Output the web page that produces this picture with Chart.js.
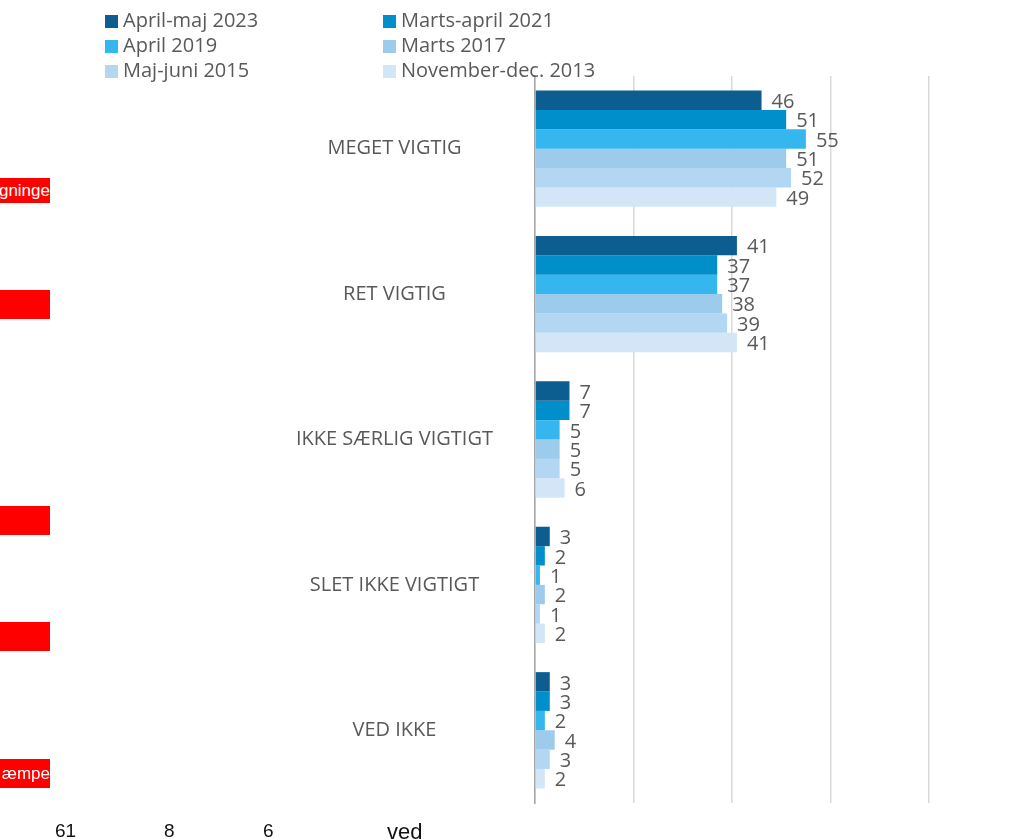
<!DOCTYPE html>
<html>
<head>
<meta charset="utf-8">
<script src="https://cdn.jsdelivr.net/npm/chart.js@4"></script>
<style>
  html, body { margin: 0; padding: 0; background: #fff; }
  #wrap { position: relative; width: 1027px; height: 839px; overflow: hidden; }
  #chart { position: absolute; left: 0; top: 0; }
  #legend { position: absolute; left: 105px; top: 7px; width: 600px; font-family: "Open Sans", sans-serif; font-size: 20px; color: #595959; }
  .li { position: absolute; white-space: nowrap; line-height: 25px; height: 25px; }
  .li span.sw { display: inline-block; width: 13px; height: 13px; margin-right: 5px; vertical-align: -1px; }
  .red { position: absolute; left: 0; width: 50px; background: #ff0000; color: #fff; font-family: "Liberation Sans", Arial, sans-serif; font-size: 17px; overflow: hidden; display: flex; justify-content: flex-end; align-items: center; white-space: nowrap; }
  .bot { position: absolute; top: 820px; font-family: "Liberation Sans", Arial, sans-serif; font-size: 19px; color: #111; }
</style>
</head>
<body>
<div id="wrap">
  <canvas id="chart" width="1027" height="839"></canvas>
  <div id="legend"></div>
  <div class="red" style="top:178px;height:25px;">gninge</div>
  <div class="red" style="top:290px;height:29px;"></div>
  <div class="red" style="top:506px;height:29px;"></div>
  <div class="red" style="top:622px;height:29px;"></div>
  <div class="red" style="top:759px;height:29px;">æmpe</div>
  <div class="bot" style="left:55px;">61</div>
  <div class="bot" style="left:164px;">8</div>
  <div class="bot" style="left:263px;">6</div>
  <div class="bot" style="left:387px;font-size:22px;top:819px;">ved</div>
</div>
<script>
const categories = ["MEGET VIGTIG", "RET VIGTIG", "IKKE SÆRLIG VIGTIGT", "SLET IKKE VIGTIGT", "VED IKKE"];
const seriesNames = ["April-maj 2023", "Marts-april 2021", "April 2019", "Marts 2017", "Maj-juni 2015", "November-dec. 2013"];
const s2023 = [46, 41, 7, 3, 3];
const s2021 = [51, 37, 7, 2, 3];
const s2019 = [55, 37, 5, 1, 2];
const s2017 = [51, 38, 5, 2, 4];
const s2015 = [52, 39, 5, 1, 3];
const s2013 = [49, 41, 6, 2, 2];
const colors = ["#0c5e90", "#008fcb", "#35b6ee", "#9ccbec", "#b3d7f2", "#d2e6f7"];
const seriesValues = [s2023, s2021, s2019, s2017, s2015, s2013];

const textColor = "#595959";
const fontFamily = "'Open Sans', sans-serif";

const valueLabels = {
  id: "valueLabels",
  afterDatasetsDraw(chart) {
    const ctx = chart.ctx;
    ctx.save();
    ctx.font = "20px " + fontFamily;
    ctx.fillStyle = textColor;
    ctx.textAlign = "left";
    ctx.textBaseline = "middle";
    chart.data.datasets.forEach((ds, i) => {
      const meta = chart.getDatasetMeta(i);
      meta.data.forEach((el, j) => {
        ctx.fillText(String(ds.data[j]), el.x + 10, el.y + 2);
      });
    });
    ctx.restore();
  }
};

const chart = new Chart(document.getElementById("chart"), {
  type: "bar",
  data: {
    labels: categories,
    datasets: seriesNames.map((name, i) => ({
      label: name,
      data: seriesValues[i],
      backgroundColor: colors[i],
      borderWidth: 0,
      categoryPercentage: 0.8,
      barPercentage: 1.0
    }))
  },
  options: {
    indexAxis: "y",
    responsive: false,
    animation: false,
    devicePixelRatio: 1,
    layout: { padding: { left: 0, right: 98, top: 76, bottom: 36 } },
    plugins: {
      legend: { display: false },
      tooltip: { enabled: false }
    },
    scales: {
      x: {
        min: 0,
        max: 80,
        ticks: { display: false, stepSize: 20 },
        grid: { color: "#d9d9d9", lineWidth: 1.5, drawTicks: false },
        border: { display: false }
      },
      y: {
        afterFit(scale) {
          scale.width = 535;
          scale.paddingTop = 0;
          scale.paddingBottom = 0;
        },
        ticks: {
          color: textColor,
          font: { family: fontFamily, size: 20 },
          crossAlign: "center",
          padding: 42
        },
        grid: { display: false, drawTicks: false },
        border: { display: true, color: "#a6a6a6", width: 1.5 }
      }
    }
  },
  plugins: [valueLabels]
});

// HTML legend built from chart datasets (2 columns x 3 rows)
const legendEl = document.getElementById("legend");
chart.data.datasets.forEach((ds, i) => {
  const item = document.createElement("div");
  item.className = "li";
  item.style.left = (i % 2 === 0 ? 0 : 278) + "px";
  item.style.top = (Math.floor(i / 2) * 25) + "px";
  const sw = document.createElement("span");
  sw.className = "sw";
  sw.style.background = ds.backgroundColor;
  item.appendChild(sw);
  item.appendChild(document.createTextNode(ds.label));
  legendEl.appendChild(item);
});
</script>
</body>
</html>
